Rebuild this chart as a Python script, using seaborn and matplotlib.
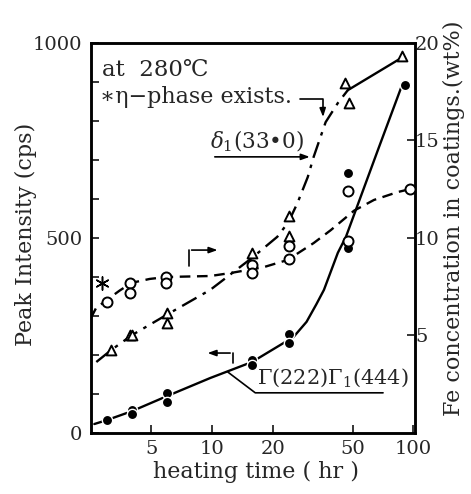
import seaborn as sns
import matplotlib.pyplot as plt
from matplotlib.ticker import FixedLocator, NullLocator, NullFormatter

# measured points (heating time in hr)
gamma_t = [3.0, 4.0, 4.0, 5.95, 5.95, 15.8, 15.8, 24, 24, 47.3, 47.3, 91]
gamma_cps = [33, 59, 49, 103, 79, 187, 174, 254, 231, 474, 667, 892]

delta_t = [3.16, 3.9, 4.0, 5.95, 5.95, 15.8, 24, 24, 46, 47.8, 88]
delta_cps = [213, 251, 251, 308, 282, 462, 556, 505, 897, 846, 967]

fe_t = [3.0, 3.9, 3.9, 5.9, 5.9, 15.8, 15.8, 24, 24, 47.3, 47.3, 96]
fe_wt = [6.7, 7.7, 7.2, 8.0, 7.7, 8.6, 8.2, 9.6, 8.9, 12.4, 9.85, 12.5]

eta_t = [2.85]
eta_wt = [7.7]

# hand-drawn curves of the original
gamma_fit_t = [2.6, 3.0, 4.0, 6.0, 9.8, 15.8, 21.9, 25.4, 29.5, 33.0, 36.0, 42.2, 46.3, 66.8, 87]
gamma_fit_cps = [23, 33, 56, 95, 141, 182, 226, 246, 285, 330, 367, 462, 503, 726, 885]

delta_fit_t = [2.66, 3.16, 4.0, 5.95, 9.8, 15.8, 21.1, 24, 26.6, 29.9, 32.0, 36.7, 42.2, 47.3]
delta_fit_cps = [182, 213, 251, 303, 367, 449, 503, 541, 590, 656, 708, 797, 846, 879]
delta_top_t = [47.3, 85]
delta_top_cps = [879, 958]

fe_fit_t = [2.5, 2.65, 2.98, 3.47, 3.98, 4.9, 5.95, 9.8, 12.3, 18, 23.7, 32.0, 38.9, 50.8, 63.8, 84, 96]
fe_fit_wt = [5.9, 6.4, 6.8, 7.3, 7.7, 7.9, 8.0, 8.05, 8.2, 8.5, 8.87, 9.74, 10.4, 11.4, 11.95, 12.36, 12.5]

sns.set_style("ticks", {"xtick.direction": "in", "ytick.direction": "in"})
plt.rcParams["font.family"] = ["DejaVu Serif"]
plt.rcParams["mathtext.fontset"] = "dejavuserif"

fig = plt.figure(figsize=(4.71, 4.94), dpi=100)
ax = fig.add_axes([0.193, 0.1235, 0.688, 0.7895])
ax2 = ax.twinx()

lw = 1.7
sns.lineplot(x=gamma_fit_t, y=gamma_fit_cps, ax=ax, sort=False, estimator=None,
             color="black", linewidth=lw)
sns.lineplot(x=delta_fit_t, y=delta_fit_cps, ax=ax, sort=False, estimator=None,
             color="black", linewidth=lw, linestyle=(0, (7, 3, 1.5, 3)))
sns.lineplot(x=delta_top_t, y=delta_top_cps, ax=ax, sort=False, estimator=None,
             color="black", linewidth=lw)
sns.lineplot(x=fe_fit_t, y=fe_fit_wt, ax=ax2, sort=False, estimator=None,
             color="black", linewidth=lw, linestyle=(0, (4.5, 2.8)))

sns.scatterplot(x=gamma_t, y=gamma_cps, ax=ax, marker="o", color="black",
                s=55, linewidth=1, zorder=4)
sns.scatterplot(x=delta_t, y=delta_cps, ax=ax, marker="^", color="white",
                edgecolor="black", s=50, linewidth=1.4, zorder=4)
sns.scatterplot(x=fe_t, y=fe_wt, ax=ax2, marker="o", color="white",
                edgecolor="black", s=52, linewidth=1.4, zorder=4)
sns.scatterplot(x=eta_t, y=eta_wt, ax=ax2, marker=(6, 2, 0), color="black",
                s=90, linewidth=1.1, zorder=4)

for a in (ax, ax2):
    a.set_xscale("log")
    a.set_xlim(2.5, 102)
ax.set_ylim(0, 1000)
ax2.set_ylim(0, 20)

ax.xaxis.set_major_locator(FixedLocator([5, 10, 20, 50, 100]))
ax.xaxis.set_minor_locator(NullLocator())
ax.xaxis.set_minor_formatter(NullFormatter())
ax.set_xticklabels(["5", "10", "20", "50", "100"])
ax.yaxis.set_major_locator(FixedLocator([0, 500, 1000]))
ax.yaxis.set_minor_locator(FixedLocator([100, 200, 300, 400, 600, 700, 800, 900]))
ax2.yaxis.set_major_locator(FixedLocator([5, 10, 15, 20]))

ax.tick_params(axis="x", which="both", direction="in", length=6, width=1.3,
               labelsize=14, pad=5, top=False)
ax.tick_params(axis="y", which="both", direction="in", length=6, width=1.3,
               labelsize=14, pad=6)
ax2.tick_params(axis="y", direction="in", length=6, width=1.3, labelsize=14, pad=0)

for a in (ax, ax2):
    for s in a.spines.values():
        s.set_visible(True)
        s.set_linewidth(1.8)
        s.set_color("black")

ax.set_xlabel("heating time ( hr )", fontsize=16, va="top")
ax.set_ylabel("Peak Intensity (cps)", fontsize=16)
ax2.set_ylabel("Fe concentration in coatings.(wt%)", fontsize=16)
ax.xaxis.set_label_coords(0.509, -0.072)
ax.yaxis.set_label_coords(-0.165, 0.51)
ax2.yaxis.set_label_coords(1.085, 0.55)

# annotations
ax.text(2.85, 931, "at  280℃", fontsize=16.5, va="center", ha="left")
ax.text(2.76, 862, "∗η−phase exists.", fontsize=16, va="center", ha="left")
ax.text(9.8, 748, r"$\delta_1$(33•0)", fontsize=15.5, va="center", ha="left")
ax.text(16.8, 143, "Γ(222)Γ$_1$(444)", fontsize=15, va="center", ha="left")

akw = dict(arrowstyle="-|>,head_length=0.5,head_width=0.18", color="black", lw=1.2)
ax.plot([27.5, 35.5, 35.5], [856, 856, 830], color="black", lw=1.2)
ax.annotate("", xy=(35.7, 803), xytext=(35.5, 831), arrowprops=akw)
ax.annotate("", xy=(31.6, 708), xytext=(10.0, 708), arrowprops=akw)
ax.plot([7.67, 7.67], [428, 469], color="black", lw=1.2)
ax.annotate("", xy=(11.0, 469), xytext=(7.67, 469), arrowprops=akw)
ax.plot([12.7, 12.7], [179, 205], color="black", lw=1.2)
ax.annotate("", xy=(9.2, 205), xytext=(12.7, 205), arrowprops=akw)
ax.plot([12.0, 16.4, 70.8], [156, 103, 103], color="black", lw=1.2)

fig.savefig("out.png", dpi=100)
